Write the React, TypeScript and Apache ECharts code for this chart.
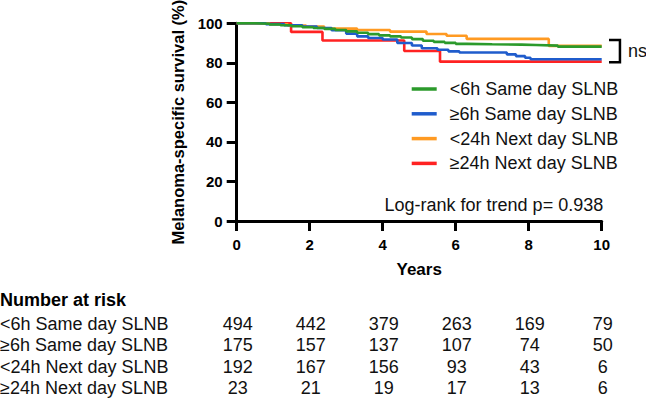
import React, { useEffect, useRef } from "react";
import * as echarts from "echarts";

const FONT = '"Liberation Sans", Arial, Helvetica, sans-serif';

const groupNames = ["<6h Same day SLNB", "≥6h Same day SLNB", "<24h Next day SLNB", "≥24h Next day SLNB"];
const groupColors = ["#2b9a2b", "#1f5ccc", "#ff9a22", "#ff2222"];

const xTicks = [0, 2, 4, 6, 8, 10];
const yTicks = [0, 20, 40, 60, 80, 100];

// Kaplan–Meier step points [years, survival %]
const kmSameDayLt6: [number, number][] = [
  [0, 100], [0.5, 99.8], [0.9, 99.4], [1.2, 99.0], [1.5, 98.5], [1.8, 98.0], [2.1, 97.6], [2.4, 97.2],
  [2.7, 96.6], [3.0, 95.9], [3.3, 95.2], [3.6, 94.5], [3.9, 93.9], [4.2, 93.4], [4.5, 92.8], [4.8, 92.0],
  [5.1, 91.2], [5.4, 90.6], [5.7, 90.1], [6.0, 89.6], [6.3, 89.4], [7.0, 89.2], [7.8, 89.0], [8.2, 88.7],
  [8.8, 88.2], [10, 88.2],
];
const kmSameDayGe6: [number, number][] = [
  [0, 100], [0.8, 99.6], [1.3, 99.0], [1.8, 98.3], [2.2, 97.6], [2.6, 96.5], [3.0, 94.8], [3.3, 93.4],
  [3.6, 92.6], [4.0, 91.8], [4.4, 90.0], [4.8, 88.8], [5.07, 87.4], [5.5, 86.6], [5.8, 85.8], [6.1, 85.2],
  [7.4, 84.3], [7.65, 83.4], [7.9, 82.6], [8.05, 81.8], [10, 81.8],
];
const kmNextDayLt24: [number, number][] = [
  [0, 100], [0.9, 99.5], [1.4, 98.9], [1.9, 98.3], [2.4, 97.3], [3.3, 96.6], [4.2, 95.8], [5.2, 94.6],
  [5.75, 93.7], [6.3, 92.1], [8.55, 88.6], [10, 88.6],
];
const kmNextDayGe24: [number, number][] = [
  [0, 100], [1.49, 95.65], [2.35, 91.3], [4.59, 86.0], [5.57, 80.6], [10, 80.6],
];
const kmData = [kmSameDayLt6, kmSameDayGe6, kmNextDayLt24, kmNextDayGe24];

// Number at risk at xTicks
const riskSameDayLt6 = [494, 442, 379, 263, 169, 79];
const riskSameDayGe6 = [175, 157, 137, 107, 74, 50];
const riskNextDayLt24 = [192, 167, 156, 93, 43, 6];
const riskNextDayGe24 = [23, 21, 19, 17, 13, 6];
const riskRows = [riskSameDayLt6, riskSameDayGe6, riskNextDayLt24, riskNextDayGe24];

const pText = "Log-rank for trend p= 0.938";

export default function App() {
  const ref = useRef<HTMLDivElement>(null);
  useEffect(() => {
    if (!ref.current) return;
    const chart = echarts.init(ref.current, null, { renderer: "svg" });
    const axisCommon = {
      axisLine: { show: true, lineStyle: { color: "#000", width: 3 } },
      axisTick: { show: true, length: 10, lineStyle: { color: "#000", width: 3 } },
      splitLine: { show: false },
    };
    chart.setOption({
      animation: false,
      backgroundColor: "#fff",
      grid: { left: 236.7, right: 44.3, top: 23.3, bottom: 181, containLabel: false, outerBoundsMode: "none" },
      xAxis: {
        type: "value", min: 0, max: 10, interval: 2,
        name: "Years", nameLocation: "middle", nameGap: 40,
        nameTextStyle: { fontFamily: FONT, fontWeight: "bold", fontSize: 17, color: "#000" },
        axisLabel: { margin: 16, fontFamily: FONT, fontWeight: "bold", fontSize: 15, color: "#000" },
        ...axisCommon,
      },
      yAxis: {
        type: "value", min: 0, max: 100, interval: 20,
        name: "Melanoma-specific survival (%)", nameLocation: "middle", nameGap: 46.5,
        nameTextStyle: { fontFamily: FONT, fontWeight: "bold", fontSize: 16.5, color: "#000" },
        axisLabel: { margin: 14, fontFamily: FONT, fontWeight: "bold", fontSize: 15, color: "#000" },
        ...axisCommon,
      },
      legend: {
        orient: "vertical", left: 411.7, top: 79, padding: 0,
        itemWidth: 25, itemHeight: 3.5, itemGap: 4.8, icon: "rect",
        data: groupNames,
        textStyle: { fontFamily: FONT, fontSize: 18, color: "#111", lineHeight: 20, padding: [0, 0, 0, 8] },
      },
      series: groupNames.map((name, i) => ({
        name, type: "line", step: "end", data: kmData[i], showSymbol: false, symbol: "none",
        clip: false, z: 10 - i + (i === 0 ? 5 : 0),
        lineStyle: { color: groupColors[i], width: 2.6 },
        itemStyle: { color: groupColors[i] },
      })),
    });

    const px = (x: number, y: number) => chart.convertToPixel({ xAxisIndex: 0, yAxisIndex: 0 }, [x, y]) as number[];
    const top = px(10.2, 91.5);
    const bot = px(10.5, 80.3);
    const corner = px(10.5, 91.5);
    const left0 = px(10.2, 80.3);
    const graphics: any[] = [
      {
        type: "polyline", z: 20,
        shape: { points: [top, corner, bot, left0] },
        style: { stroke: "#000", lineWidth: 2.5, fill: null },
      },
      {
        type: "text", z: 20, x: corner[0] + 8, y: (top[1] + bot[1]) / 2,
        style: { text: "ns", fontFamily: FONT, fontSize: 18, fill: "#111", verticalAlign: "middle", align: "left" },
      },
      {
        type: "text", z: 20, x: px(10, 0)[0] + 1.5, y: px(0, 8.2)[1],
        style: { text: pText, fontFamily: FONT, fontSize: 18, fill: "#111", verticalAlign: "middle", align: "right" },
      },
      {
        type: "text", x: 0, y: 300,
        style: { text: "Number at risk", fontFamily: FONT, fontSize: 18, fontWeight: "bold", fill: "#000", verticalAlign: "middle" },
      },
    ];
    const rowY = [323.5, 345, 366.5, 388];
    groupNames.forEach((name, r) => {
      graphics.push({
        type: "text", x: 0, y: rowY[r],
        style: { text: name, fontFamily: FONT, fontSize: 18, fill: "#111", verticalAlign: "middle" },
      });
      riskRows[r].forEach((v, c) => {
        graphics.push({
          type: "text", x: px(xTicks[c], 0)[0] + 1, y: rowY[r],
          style: { text: String(v), fontFamily: FONT, fontSize: 18, fill: "#111", verticalAlign: "middle", align: "center" },
        });
      });
    });
    chart.setOption({ graphic: graphics });
    return () => chart.dispose();
  }, []);
  return <div ref={ref} style={{ position: "fixed", left: 0, top: 0, width: 646, height: 402 }} />;
}
